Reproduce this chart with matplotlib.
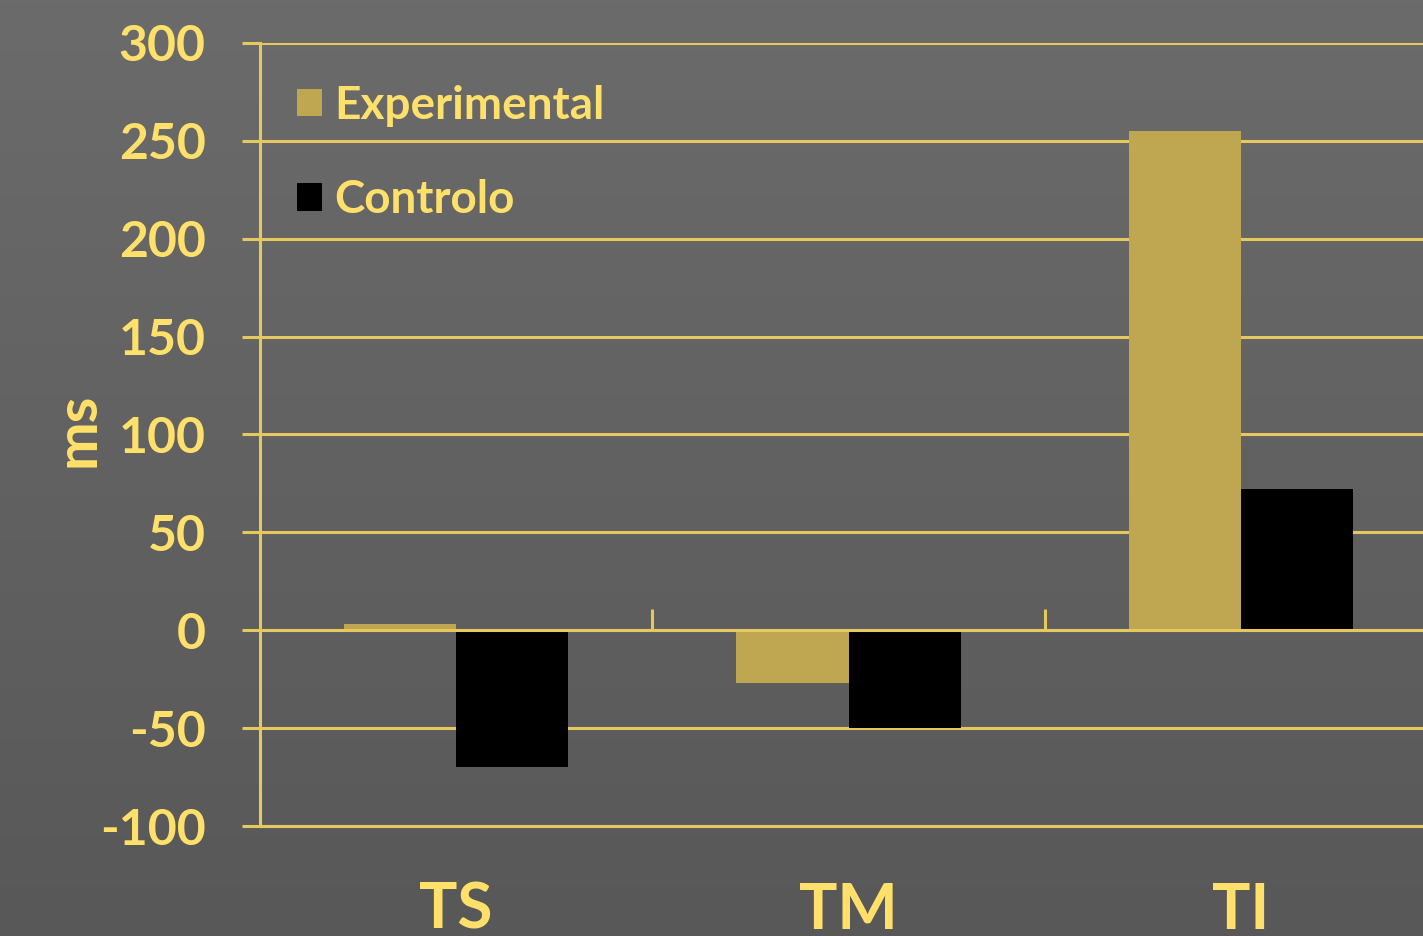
import numpy as np
import matplotlib.pyplot as plt

# response time differences (ms) per segment
categories = ["TS", "TM", "TI"]
experimental = [3, -27, 255]
controlo = [-70, -50, 72]
y_ticks = [-100, -50, 0, 50, 100, 150, 200, 250, 300]

yellow = "#ffe06a"
line_col = "#e6c95e"
gold = "#bfa752"

plt.rcParams["font.family"] = ["Lato", "DejaVu Sans"]
plt.rcParams["font.weight"] = "bold"

fig = plt.figure(figsize=(14.23, 9.36), dpi=100)

# dark grey gradient background
bg = fig.add_axes([0, 0, 1, 1], zorder=-10)
grad = np.linspace(0, 1, 256).reshape(-1, 1)
bg.imshow(grad, aspect="auto", cmap=plt.matplotlib.colors.LinearSegmentedColormap.from_list(
    "bg", ["#6b6b6b", "#585858"]), extent=[0, 1, 0, 1], origin="upper")
bg.axis("off")

left = 260 / 1423
ax = fig.add_axes([left, 0.1175, (261 + 1176) / 1423 - left, 0.8366])
ax.patch.set_alpha(0)

x = np.arange(len(categories))
w = 0.286
ax.bar(x - w / 2, experimental, w, color=gold, label="Experimental", zorder=3)
ax.bar(x + w / 2, controlo, w, color="black", label="Controlo", zorder=3)

ax.set_xlim(-0.5, 2.5)
ax.set_ylim(-100, 300)
ax.set_yticks(y_ticks)
ax.set_yticklabels([str(v) for v in y_ticks])
ax.yaxis.grid(True, color=line_col, lw=2.2, zorder=1)
ax.axhline(0, color=line_col, lw=2.2, zorder=4)
ax.vlines([0.5, 1.5], 0, 11, color=line_col, lw=2.2, zorder=4)

for s in ["top", "right"]:
    ax.spines[s].set_visible(False)
ax.spines["left"].set_color(line_col)
ax.spines["left"].set_linewidth(2.2)
ax.spines["bottom"].set_color(line_col)
ax.spines["bottom"].set_linewidth(2.2)

ax.tick_params(axis="y", length=13, width=2.2, color=line_col, pad=26,
               labelsize=36, labelcolor=yellow)
ax.set_xticks(x)
ax.set_xticklabels(categories)
ax.tick_params(axis="x", length=0, pad=40, labelsize=46, labelcolor=yellow)

fig.text(0.055, 0.541, "ms", rotation=90, ha="center", va="center",
         fontsize=42, color=yellow, fontweight="bold")

leg = ax.legend(loc="upper left", bbox_to_anchor=(0.016, 0.97), frameon=False,
                fontsize=33, handlelength=0.55, handleheight=0.55,
                handletextpad=0.25, labelspacing=1.15, borderaxespad=0)
for t in leg.get_texts():
    t.set_color(yellow)

fig.savefig("out.png", dpi=100)
